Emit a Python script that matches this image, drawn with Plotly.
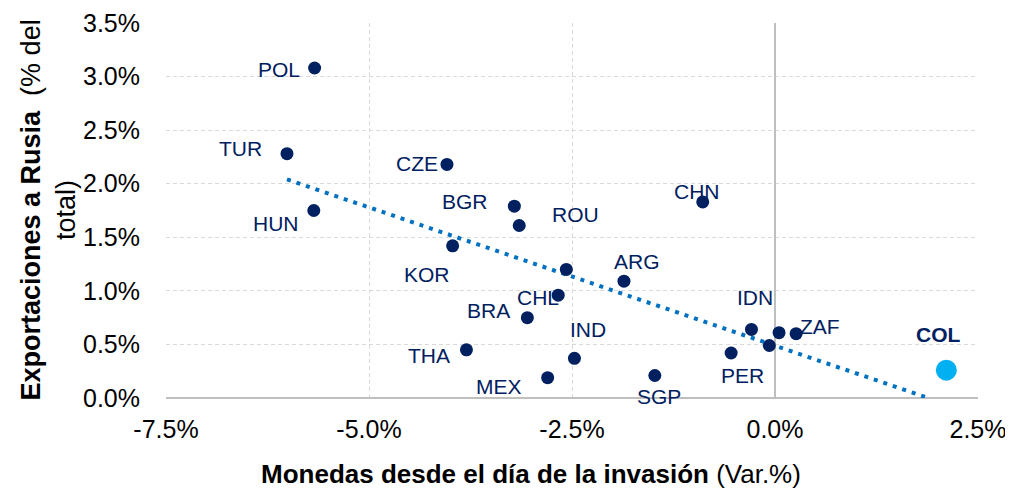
import plotly.graph_objects as go

# ===============================
# DATA
# ===============================
countries = ["POL", "TUR", "HUN", "CZE", "BGR", "ROU", "KOR", "", "ARG", "CHL",
             "BRA", "IND", "THA", "MEX", "SGP", "PER", "IDN", "", "ZAF", "", "CHN"]
fx_change = [-5.67, -6.01, -5.68, -4.04, -3.21, -3.15, -3.97, -2.57, -1.86, -2.67,
             -3.05, -2.47, -3.80, -2.80, -1.48, -0.54, -0.29, 0.05, 0.26, -0.07, -0.89]
exports_ru = [3.08, 2.28, 1.75, 2.18, 1.79, 1.61, 1.42, 1.20, 1.09, 0.96,
              0.75, 0.37, 0.45, 0.19, 0.21, 0.42, 0.64, 0.61, 0.60, 0.49, 1.83]

col_name = "COL"
col_fx = 2.11
col_exports = 0.26

# tendencia lineal (extremos)
trend_x = [-6.01, 1.89]
trend_y = [2.04, 0.0]

x_ticks = [-7.5, -5.0, -2.5, 0.0, 2.5]
y_ticks = [0.0, 0.5, 1.0, 1.5, 2.0, 2.5, 3.0, 3.5]

# ===============================
# STYLE
# ===============================
NAVY = "#002060"
LIGHT_BLUE = "#00B0F0"
TREND = "#0070C0"
GRID = "#d9d9d9"
FONT = "Liberation Sans, Arial, sans-serif"

# label offsets in px (dx right, dy down) from each point
LABEL_OFFSET = {
    "POL": (-36, 1), "TUR": (-46, -5), "HUN": (-38, 13), "CZE": (-30, -1),
    "BGR": (-49, -5), "ROU": (56, -11), "KOR": (-26, 29), "ARG": (13, -20),
    "CHL": (-20, 2), "BRA": (-39, -7), "IND": (14, -29), "THA": (-37, 6),
    "MEX": (-49, 9), "SGP": (4, 21), "PER": (11, 22), "IDN": (4, -32),
    "ZAF": (24, -7), "CHN": (-6, -10),
}

fig = go.Figure()

fig.add_trace(go.Scatter(
    x=trend_x, y=trend_y, mode="lines",
    line=dict(color=TREND, width=4, dash="4px,6px"),
    hoverinfo="skip", showlegend=False,
))

fig.add_trace(go.Scatter(
    x=fx_change, y=exports_ru, mode="markers",
    marker=dict(size=13, color=NAVY),
    text=countries, hoverinfo="text", showlegend=False,
))

fig.add_trace(go.Scatter(
    x=[col_fx], y=[col_exports], mode="markers",
    marker=dict(size=21, color=LIGHT_BLUE),
    text=[col_name], hoverinfo="text", showlegend=False,
))

annotations = []
for name, xv, yv in zip(countries, fx_change, exports_ru):
    if not name:
        continue
    dx, dy = LABEL_OFFSET[name]
    annotations.append(dict(
        x=xv, y=yv, xref="x", yref="y", text=name, showarrow=False,
        xshift=dx, yshift=-dy, font=dict(size=21, color=NAVY, family=FONT),
    ))

annotations.append(dict(
    x=col_fx, y=col_exports, xref="x", yref="y", text="<b>" + col_name + "</b>",
    showarrow=False, xshift=-8, yshift=36,
    font=dict(size=21, color=NAVY, family=FONT),
))

# axis titles
annotations.append(dict(
    x=0.5, y=0, xref="paper", yref="paper", yanchor="middle",
    xshift=-41, yshift=-76,
    text="<b>Monedas desde el día de la invasión</b> (Var.%)", showarrow=False,
    font=dict(size=26, color="#000000", family=FONT),
))
annotations.append(dict(
    x=0, y=0.5, xref="paper", yref="paper", xanchor="center", xshift=-118,
    text="<b>Exportaciones a Rusia</b>  (% del<br>total)", textangle=-90,
    showarrow=False, font=dict(size=27, color="#000000", family=FONT),
))

# page body adds an 8px offset, margins account for it
fig.update_layout(
    width=1013, height=489,
    margin=dict(l=158, r=43, t=15, b=99),
    paper_bgcolor="white", plot_bgcolor="white",
    font=dict(family=FONT, color="#000000"),
    annotations=annotations,
    showlegend=False,
)

fig.update_xaxes(
    range=[-7.5, 2.5], tickvals=x_ticks,
    ticktext=[f"{v:.1f}%" for v in x_ticks],
    tickfont=dict(size=25, color="#000000"),
    showgrid=True, gridcolor=GRID, griddash="4px,3px", gridwidth=1,
    zeroline=True, zerolinecolor="#bfbfbf", zerolinewidth=2,
    showline=False, ticks="", ticklabelstandoff=14, automargin=False,
)
fig.update_yaxes(
    range=[0, 3.5], tickvals=y_ticks,
    ticktext=[f"{v:.1f}%" for v in y_ticks],
    tickfont=dict(size=25, color="#000000"),
    showgrid=True, gridcolor=GRID, griddash="4px,3px", gridwidth=1,
    zeroline=True, zerolinecolor="#bfbfbf", zerolinewidth=2,
    showline=False, ticks="", ticklabelstandoff=25, automargin=False,
)

fig.write_html("out.html")
